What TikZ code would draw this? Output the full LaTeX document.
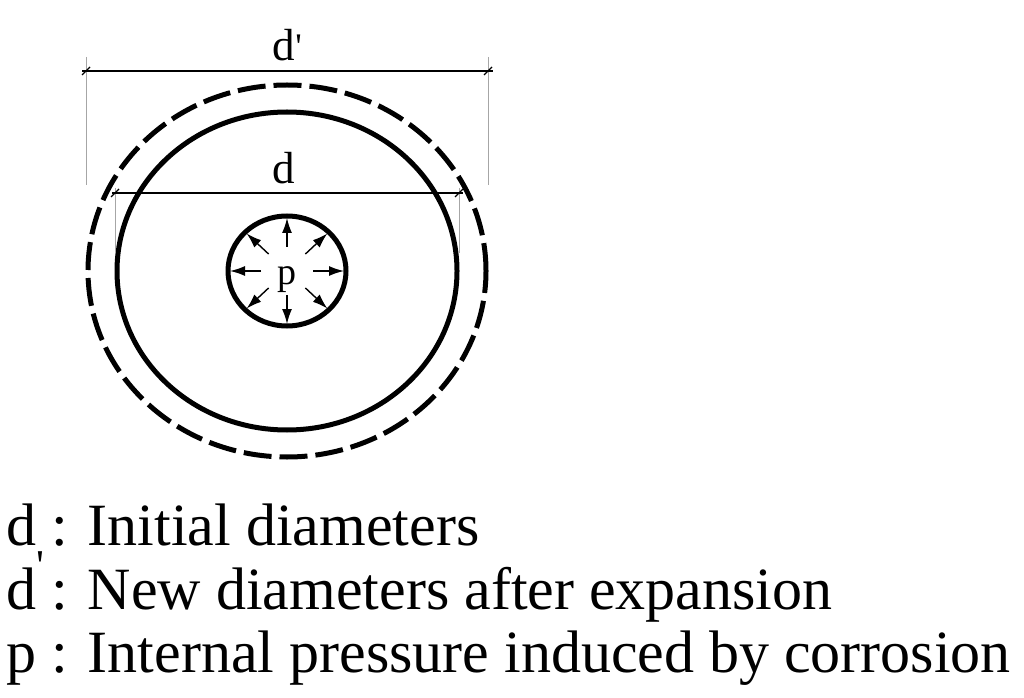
\documentclass[tikz,border=0pt]{standalone}
\usepackage{fontspec}
\setmainfont{Liberation Serif}
\usetikzlibrary{arrows.meta}
\begin{document}
\begin{tikzpicture}[x=1pt, y=1pt,
    wall/.style={line width=5pt},
    dimline/.style={line width=1.3pt},
    extline/.style={line width=1pt, gray!70},
    push/.style={line width=1.4pt, -{Latex[length=15pt,width=10pt]}},
    dimlabel/.style={inner sep=0pt, font=\fontsize{45}{45}\selectfont},
    legend/.style={inner sep=0pt, anchor=base west, font=\fontsize{60}{63}\selectfont}]
  \useasboundingbox (0,0) rectangle (1024,697);
  \coordinate (c) at (287,426);

  % Boundaries
  \draw[wall, dash pattern=on 28pt off 8pt] (c) ellipse [x radius=199, y radius=186];
  \draw[wall] (c) ellipse [x radius=170, y radius=159];
  \draw[wall] (c) ellipse [x radius=59, y radius=55];

  % Internal pressure
  \node[dimlabel, font=\fontsize{38}{38}\selectfont, anchor=base] (p) at (287,412) {p};
  \foreach \a in {0,45,...,315}
    \draw[push] ([shift={(\a:26 and 24)}]c) -- ([shift={(\a:57 and 53)}]c);

  % Dimension d'
  \coordinate (dpl) at (86,626);
  \coordinate (dpr) at (488,626);
  \draw[extline] ([yshift=14]dpl) -- ([yshift=-114]dpl);
  \draw[extline] ([yshift=14]dpr) -- ([yshift=-114]dpr);
  \draw[dimline] ([xshift=-4]dpl) -- ([xshift=5]dpr);
  \draw[dimline] ([shift={(-4,-4)}]dpl) -- ([shift={(4,4)}]dpl);
  \draw[dimline] ([shift={(-4,-4)}]dpr) -- ([shift={(4,4)}]dpr);
  \node[dimlabel, anchor=base] (dplab) at (284,636) {d\rlap{\raisebox{2pt}{\fontsize{36}{36}\selectfont\textquotesingle}}};

  % Dimension d
  \coordinate (dl) at (115,504);
  \coordinate (dr) at (459,504);
  \draw[extline] ([yshift=5]dl) -- ([yshift=-60]dl);
  \draw[extline] ([yshift=5]dr) -- ([yshift=-60]dr);
  \draw[dimline] ([xshift=-3]dl) -- ([xshift=4]dr);
  \draw[dimline] ([shift={(-4,-4)}]dl) -- ([shift={(4,4)}]dl);
  \draw[dimline] ([shift={(-4,-4)}]dr) -- ([shift={(4,4)}]dr);
  \node[dimlabel, anchor=base] (dlab) at (284,513) {d};

  % Legend
  \node[legend] (legd) at (6,152) {d : Initial diameters};
  \node[legend] (legdd) at (6,88) {d\rlap{\smash{\raisebox{29pt}{\fontsize{44}{44}\selectfont\textquotesingle}}} : New diameters after expansion};
  \node[legend] (legp) at (6,25) {p : Internal pressure induced by corrosion};
\end{tikzpicture}
\end{document}
